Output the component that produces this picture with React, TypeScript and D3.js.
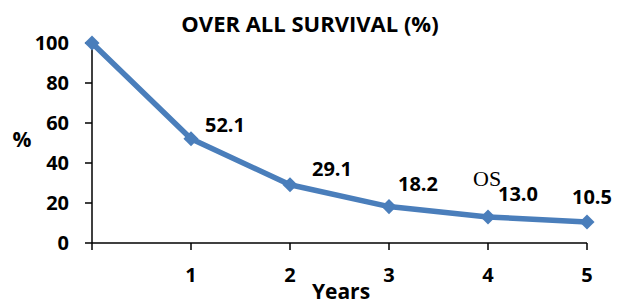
import React from "react";
import * as d3 from "d3";

const years = [0, 1, 2, 3, 4, 5];
const survival = [100, 52.1, 29.1, 18.2, 13.0, 10.5];
const labels = ["", "52.1", "29.1", "18.2", "13.0", "10.5"];
const yTicks = [0, 20, 40, 60, 80, 100];
const xTickLabels = ["", "1", "2", "3", "4", "5"];
// label nudges relative to each point (dx, dy)
const labelNudge: [number, number][] = [
  [0, 0], [14, -7], [22, -9], [9, -16], [10, -16], [-15, -18],
];

const W = 619;
const H = 304;
const FONT = "'Open Sans', 'Liberation Sans', sans-serif";
const BLUE = "#4a7ebb";

export default function App() {
  const x = d3.scaleLinear().domain([0, 5]).range([92, 587]);
  const y = d3.scaleLinear().domain([0, 100]).range([243, 43]);

  const line = d3.line<number>()
    .x((d, i) => x(years[i]))
    .y((d) => y(d));

  const diamond = d3.symbol().type(d3.symbolDiamond2).size(145)();

  return (
    <svg width={W} height={H} style={{ position: "absolute", left: 0, top: 0 }}
      fontFamily={FONT}>
      <rect width={W} height={H} fill="#fff" />
      <text x={310} y={32} textAnchor="middle" fontWeight="bold" fontSize={22}>
        OVER ALL SURVIVAL (%)
      </text>

      {/* y axis */}
      <line x1={x(0)} x2={x(0)} y1={y(0)} y2={y(100)} stroke="#000" strokeWidth={1.5} />
      {yTicks.map((t) => (
        <g key={t}>
          <line x1={x(0) - 7} x2={x(0)} y1={y(t)} y2={y(t)} stroke="#000" strokeWidth={1.5} />
          <text x={69} y={y(t)} dy="0.36em" textAnchor="end" fontWeight="bold" fontSize={20}>
            {t}
          </text>
        </g>
      ))}
      <text x={22} y={147} textAnchor="middle" fontWeight="bold" fontSize={21}>%</text>

      {/* x axis */}
      <line x1={x(0)} x2={x(5)} y1={y(0)} y2={y(0)} stroke="#000" strokeWidth={1.5} />
      {years.map((t, i) => (
        <g key={t}>
          <line x1={x(t)} x2={x(t)} y1={y(0)} y2={y(0) + 7} stroke="#000" strokeWidth={1.5} />
          <text x={x(t)} y={282} textAnchor="middle" fontWeight="bold" fontSize={20}>
            {xTickLabels[i]}
          </text>
        </g>
      ))}
      <text x={341} y={299} textAnchor="middle" fontWeight="bold" fontSize={21}>Years</text>

      <path d={line(survival) || ""} fill="none" stroke={BLUE} strokeWidth={5.5}
        strokeLinejoin="round" />
      {survival.map((v, i) => (
        <path key={i} d={diamond || ""} transform={`translate(${x(years[i])},${y(v)})`}
          fill={BLUE} />
      ))}
      {survival.map((v, i) => (
        labels[i] ? (
          <text key={"l" + i} x={x(years[i]) + labelNudge[i][0]} y={y(v) + labelNudge[i][1]}
            fontWeight="bold" fontSize={20}>
            {labels[i]}
          </text>
        ) : null
      ))}
      <text x={473} y={186} fontFamily="'Liberation Serif', serif" fontSize={22}>OS</text>
    </svg>
  );
}
